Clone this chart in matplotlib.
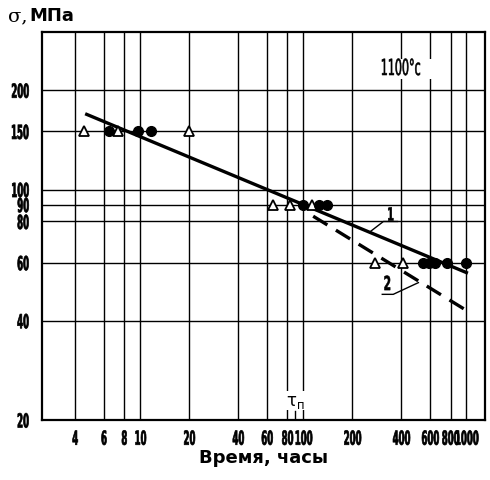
import matplotlib
matplotlib.use("Agg")
import matplotlib.pyplot as plt
from matplotlib import patheffects
from matplotlib.transforms import Affine2D

# data
x_ticks = [4, 6, 8, 10, 20, 40, 60, 80, 100, 200, 400, 600, 800, 1000]
y_ticks = [20, 40, 60, 80, 90, 100, 150, 200]

tri_x = [4.5, 7.3, 20, 65, 83, 113, 277, 410]
tri_y = [150, 150, 150, 90, 90, 90, 60, 60]
dot_x = [6.4, 9.7, 11.7, 100, 125, 140, 540, 590, 640, 760, 1000]
dot_y = [150, 150, 150, 90, 90, 90, 60, 60, 60, 60, 60]

line1_x = [4.7, 1000]
line1_y = [169, 56]
line2_x = [115, 1000]
line2_y = [83, 43]

tau_p = 89


class Narrow(patheffects.AbstractPathEffect):
    # squeeze the glyphs sideways, like the condensed lettering of the scan
    def __init__(self, sx=0.55, anchor="center", stroke=0.0):
        super().__init__()
        self.sx = sx
        self.anchor = anchor
        self.stroke = stroke

    def draw_path(self, renderer, gc, tpath, affine, rgbFace=None):
        ext = tpath.get_extents(affine)
        if self.anchor == "right":
            cx = ext.x1
        elif self.anchor == "left":
            cx = ext.x0
        else:
            cx = (ext.x0 + ext.x1) / 2
        a = affine + Affine2D().translate(-cx, 0).scale(self.sx, 1).translate(cx, 0)
        renderer.draw_path(gc, tpath, a, rgbFace)
        if self.stroke > 0:
            gc0 = renderer.new_gc()
            gc0.copy_properties(gc)
            gc0.set_linewidth(self.stroke)
            gc0.set_foreground("black")
            renderer.draw_path(gc0, tpath, a, None)
            gc0.restore()


fig = plt.figure(figsize=(4.9, 4.81), dpi=100)
ax = fig.add_axes([0.0857, 0.1247, 0.904, 0.8063])
ax.set_xscale("log")
ax.set_yscale("log")
ax.set_xlim(2.5, 1300)
ax.set_ylim(20, 300)

for v in x_ticks:
    ax.axvline(v, color="black", lw=1, zorder=1)
for v in y_ticks:
    ax.axhline(v, color="black", lw=1, zorder=1)

ax.minorticks_off()
ax.set_xticks(x_ticks)
ax.set_xticklabels([str(v) for v in x_ticks], fontsize=14, fontweight="bold")
ax.set_yticks(y_ticks)
ax.set_yticklabels([str(v) for v in y_ticks], fontsize=14, fontweight="bold")
ax.tick_params(axis="y", length=0, pad=9)
ax.tick_params(axis="x", length=0, pad=7)
for lab in ax.get_xticklabels():
    lab.set_path_effects([Narrow(0.44, "center", 0.5)])
for lab in ax.get_yticklabels():
    lab.set_path_effects([Narrow(0.44, "right", 0.5)])
    lab.set_va("center_baseline")
for s in ax.spines.values():
    s.set_linewidth(1.6)

ax.plot(line1_x, line1_y, color="black", lw=2.4, zorder=3)
ax.plot(line2_x, line2_y, color="black", lw=2.4, ls=(0, (5, 3)), zorder=3)
ax.plot(tri_x, tri_y, ls="none", marker="^", ms=7, mfc="white", mec="black", mew=1.3, zorder=4)
ax.plot(dot_x, dot_y, ls="none", marker="o", ms=7, color="black", zorder=4)

# curve labels with leaders
t1 = ax.text(342, 83.4, "1", fontsize=13, fontweight="bold", ha="center", va="center")
ax.plot([258, 310, 378], [74.6, 80, 80], color="black", lw=1)
t2 = ax.text(328, 51.5, "2", fontsize=14, fontweight="bold", ha="center", va="center")
ax.plot([305, 356, 508], [48.1, 48.1, 52.2], color="black", lw=1)
for t in (t1, t2):
    t.set_path_effects([Narrow(0.55, "center", 0.4)])

t3 = ax.text(395, 232, "1100°c", fontsize=16, ha="center", va="center",
             bbox=dict(facecolor="white", edgecolor="none", pad=0), zorder=5)
t3.set_path_effects([Narrow(0.5, "center", 0.4)])

ax.text(tau_p, 21.5, "τ$_\\mathregular{п}$", fontsize=12, ha="center", va="bottom",
        bbox=dict(facecolor="white", edgecolor="none", pad=0.3), zorder=5)
ax.plot([tau_p, tau_p], [20, 21.3], color="black", lw=1, zorder=5)

fig.text(0.017, 0.948, "σ,", fontsize=14, family="DejaVu Serif", va="bottom")
fig.text(0.06, 0.948, "МПа", fontsize=13, fontweight="bold", family="DejaVu Sans", va="bottom")
fig.text(0.537, 0.03, "Время, часы", fontsize=13, fontweight="bold", family="DejaVu Sans",
         ha="center", va="bottom")

fig.savefig("out.png", dpi=100)
